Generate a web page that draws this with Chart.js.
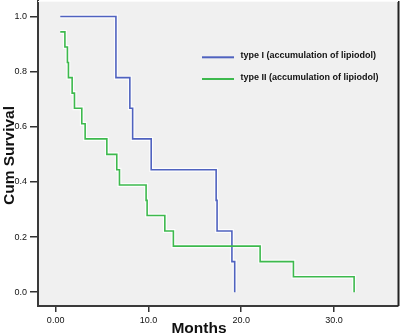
<!DOCTYPE html>
<html>
<head>
<meta charset="utf-8">
<script src="https://cdn.jsdelivr.net/npm/chart.js@4"></script>
<style>
html,body{margin:0;padding:0;background:#fff;}
#wrap{width:400px;height:334px;position:relative;}
</style>
</head>
<body>
<div id="wrap"><canvas id="c" width="400" height="334"></canvas></div>
<script>
// ---- data ----
const type1Months   = [0.5, 6.5, 8.0, 8.3, 10.3, 17.3, 17.4, 19.0, 19.3];
const type1Survival = [1.0, 0.778, 0.667, 0.556, 0.444, 0.333, 0.222, 0.111, 0.0];
const type2Months   = [0.5, 1.0, 1.27, 1.38, 1.78, 2.03, 2.82, 3.18, 5.52, 6.59, 6.88, 9.75, 9.86, 11.77, 12.69, 22.04, 25.63, 32.17];
const type2Survival = [0.944, 0.889, 0.833, 0.778, 0.722, 0.667, 0.611, 0.556, 0.5, 0.444, 0.389, 0.333, 0.278, 0.222, 0.167, 0.111, 0.056, 0.0];
const xTickValues = [0, 10, 20, 30];
const xTickLabels = ["0.00", "10.0", "20.0", "30.0"];
const yTickValues = [0, 0.2, 0.4, 0.6, 0.8, 1.0];
const yTickLabels = ["0.0", "0.2", "0.4", "0.6", "0.8", "1.0"];
const seriesLabels = ["type I (accumulation of lipiodol)", "type II (accumulation of lipiodol)"];
const xTitle = "Months";
const yTitle = "Cum Survival";

const FONT = "'Liberation Sans', Arial, sans-serif";
const BLUE = "#4f62bf";
const GREEN = "#3db94d";

function pts(xs, ys){ return xs.map((x,i)=>({x:x, y:ys[i]})); }

const framePlugin = {
  id: 'frame',
  beforeDraw(chart){
    const {ctx, chartArea:a} = chart;
    ctx.save();
    ctx.fillStyle = '#f0f0f0';
    ctx.fillRect(a.left, a.top, a.right - a.left, a.bottom - a.top);
    ctx.restore();
  },
  afterDraw(chart){
    const {ctx, chartArea:a} = chart;
    ctx.save();
    // right frame
    ctx.strokeStyle = '#222';
    ctx.lineWidth = 2;
    ctx.beginPath();
    ctx.moveTo(a.right + 0.5, a.top);
    ctx.lineTo(a.right + 0.5, a.bottom);
    ctx.stroke();
    // top frame (light)
    ctx.strokeStyle = '#fafafa';
    ctx.lineWidth = 1;
    ctx.beginPath();
    ctx.moveTo(a.left, a.top + 0.5);
    ctx.lineTo(a.right, a.top + 0.5);
    ctx.stroke();
    // axis titles
    ctx.fillStyle = '#111';
    ctx.font = "bold 15.5px " + FONT;
    ctx.textAlign = 'center';
    ctx.textBaseline = 'alphabetic';
    ctx.fillText(xTitle, 199, 333);
    ctx.translate(14, 155.5);
    ctx.rotate(-Math.PI/2);
    ctx.fillText(yTitle, 0, 0);
    ctx.restore();
    // legend
    ctx.save();
    const items = [chart.data.datasets[2], chart.data.datasets[3]];
    const ys = [57.3, 79];
    ctx.font = "bold 9px " + FONT;
    ctx.textBaseline = 'middle';
    ctx.textAlign = 'left';
    items.forEach((ds, i) => {
      ctx.strokeStyle = ds.borderColor;
      ctx.lineWidth = 2;
      ctx.beginPath();
      ctx.moveTo(202, ys[i]);
      ctx.lineTo(234, ys[i]);
      ctx.stroke();
      ctx.fillStyle = '#111';
      ctx.fillText(ds.label, 240.5, ys[i] - 1.5);
    });
    ctx.restore();
  }
};

const tickFont = {family: FONT, size: 9};

new Chart(document.getElementById('c'), {
  type: 'line',
  data: {
    datasets: [
      {label: 'halo1', order: 10, data: pts(type1Months, type1Survival), stepped: 'before', borderColor: 'rgba(255,255,255,0.85)', borderWidth: 4, pointRadius: 0, fill: false},
      {label: 'halo2', order: 10, data: pts(type2Months, type2Survival), stepped: 'before', borderColor: 'rgba(255,255,255,0.85)', borderWidth: 4, pointRadius: 0, fill: false},
      {label: seriesLabels[0], order: 1, data: pts(type1Months, type1Survival), stepped: 'before', borderColor: BLUE, borderWidth: 1.6, pointRadius: 0, fill: false},
      {label: seriesLabels[1], order: 0, data: pts(type2Months, type2Survival), stepped: 'before', borderColor: GREEN, borderWidth: 1.6, pointRadius: 0, fill: false}
    ]
  },
  options: {
    responsive: false,
    animation: false,
    devicePixelRatio: 1,
    layout: {padding: {left: 0, right: 2, top: 1, bottom: 0}},
    plugins: {legend: {display: false}, tooltip: {enabled: false}},
    scales: {
      x: {
        type: 'linear', min: -1.9, max: 36.9,
        afterFit(s){ s.height = 28; s.paddingLeft = 0; s.paddingRight = 0; },
        afterBuildTicks(s){ s.ticks = xTickValues.map(v => ({value: v})); },
        ticks: {
          callback: (v) => { const i = xTickValues.indexOf(v); return i >= 0 ? xTickLabels[i] : ''; },
          font: tickFont, color: '#111', padding: 3, maxRotation: 0, autoSkip: false
        },
        grid: {drawOnChartArea: false, drawTicks: true, tickLength: 6, color: '#333', lineWidth: 1.5},
        border: {display: true, color: '#3a3a3a', width: 2}
      },
      y: {
        type: 'linear', min: -0.05, max: 1.056,
        afterFit(s){ s.width = 38; s.paddingTop = 0; s.paddingBottom = 0; },
        afterBuildTicks(s){ s.ticks = yTickValues.map(v => ({value: v})); },
        ticks: {
          callback: (v) => { const i = yTickValues.findIndex(t => Math.abs(t - v) < 1e-9); return i >= 0 ? yTickLabels[i] : ''; },
          font: tickFont, color: '#111', padding: 3, autoSkip: false
        },
        grid: {drawOnChartArea: false, drawTicks: true, tickLength: 8, color: '#333', lineWidth: 1.5},
        border: {display: true, color: '#3a3a3a', width: 2}
      }
    }
  },
  plugins: [framePlugin]
});
</script>
</body>
</html>
